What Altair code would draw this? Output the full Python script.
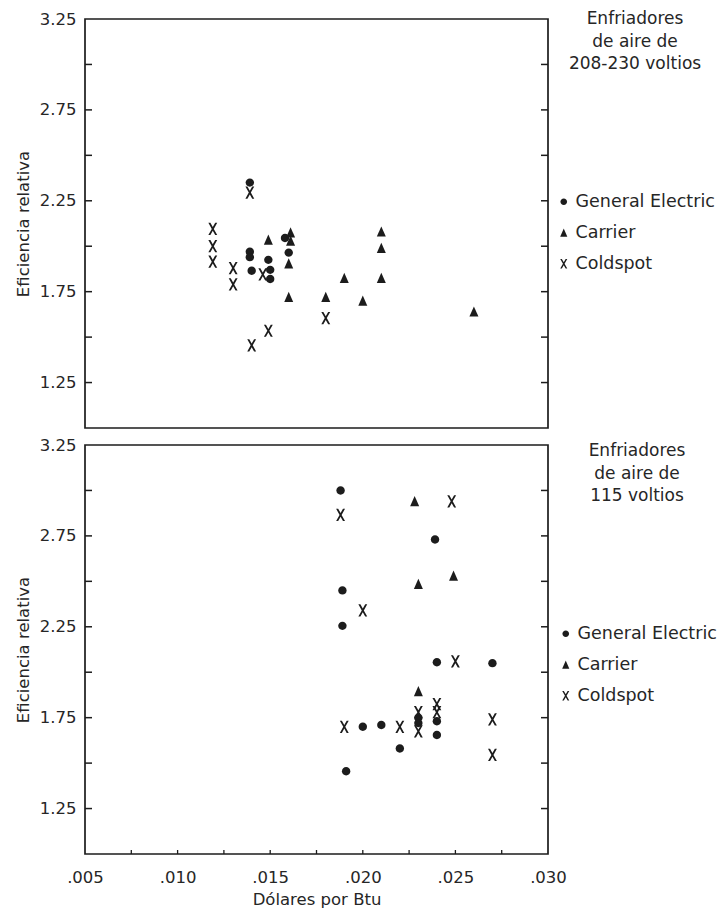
import altair as alt
import pandas as pd

brands = ["General Electric", "Carrier", "Coldspot"]

# Panel 1: 208-230 volt air conditioners
top_ge_x = [0.0139, 0.0139, 0.0139, 0.0140, 0.0149, 0.0150, 0.0150, 0.0158, 0.0160]
top_ge_y = [2.35, 1.97, 1.94, 1.865, 1.925, 1.87, 1.82, 2.045, 1.965]
top_ca_x = [0.0149, 0.0161, 0.0161, 0.0160, 0.0160, 0.0180, 0.0190, 0.0200, 0.0210, 0.0210, 0.0210, 0.0260]
top_ca_y = [2.035, 2.075, 2.03, 1.905, 1.72, 1.72, 1.825, 1.70, 2.08, 1.99, 1.825, 1.64]
top_co_x = [0.0139, 0.0119, 0.0119, 0.0119, 0.0130, 0.0130, 0.0146, 0.0180, 0.0149, 0.0140]
top_co_y = [2.295, 2.095, 2.0, 1.915, 1.88, 1.79, 1.845, 1.605, 1.535, 1.455]

# Panel 2: 115 volt air conditioners
bot_ge_x = [0.0188, 0.0239, 0.0189, 0.0189, 0.0240, 0.0270, 0.0200, 0.0210, 0.0220, 0.0230, 0.0230, 0.0240, 0.0240, 0.0191]
bot_ge_y = [3.00, 2.73, 2.45, 2.255, 2.055, 2.05, 1.70, 1.71, 1.58, 1.75, 1.72, 1.73, 1.655, 1.455]
bot_ca_x = [0.0228, 0.0249, 0.0230, 0.0230]
bot_ca_y = [2.94, 2.53, 2.485, 1.895]
bot_co_x = [0.0188, 0.0248, 0.0200, 0.0250, 0.0190, 0.0220, 0.0230, 0.0230, 0.0240, 0.0240, 0.0270, 0.0270]
bot_co_y = [2.865, 2.94, 2.34, 2.06, 1.70, 1.70, 1.78, 1.675, 1.825, 1.78, 1.74, 1.545]

top_title = ["Enfriadores", "de aire de", "208-230 voltios"]
bot_title = ["Enfriadores", "de aire de", "115 voltios"]

y_label_values = [1.25, 1.75, 2.25, 2.75, 3.25]
y_tick_values = [1.25, 1.5, 1.75, 2.0, 2.25, 2.5, 2.75, 3.0]
x_label_values = [0.005, 0.010, 0.015, 0.020, 0.025, 0.030]
x_tick_values = [0.0075, 0.010, 0.0125, 0.015, 0.0175, 0.020, 0.0225, 0.025, 0.0275]

W, H = 463, 409
INK = "#1c1c1c"
TXT = "#262626"
FONT = "DejaVu Sans"

# filled symbol outlines in the unit box (scaled by the common symbol size)
shape_range = [
    "M0.7,0A0.7,0.7 0 1,1 -0.7,0A0.7,0.7 0 1,1 0.7,0Z",
    "M0,-0.88L0.75,0.82L-0.75,0.82Z",
    "M-0.74,-1.02L-0.4,-1.02L0,-0.31L0.4,-1.02L0.74,-1.02L0.17,0L0.74,1.02L0.4,1.02"
    "L0,0.31L-0.4,1.02L-0.74,1.02L-0.17,0Z",
]


def frame(xs_list, ys_list):
    rows = []
    for b, xs, ys in zip(brands, xs_list, ys_list):
        for xv, yv in zip(xs, ys):
            rows.append({"x": xv, "y": yv, "brand": b})
    return pd.DataFrame(rows)


xscale = alt.Scale(domain=[0.005, 0.030], nice=False, zero=False)
yscale = alt.Scale(domain=[1.0, 3.25], nice=False, zero=False)

yaxis = alt.Axis(values=y_label_values, format=".2f", ticks=False, domain=False, grid=False,
                 labelPadding=9, title="Eficiencia relativa", titlePadding=8,
                 labelFontSize=16.5, titleFontSize=16.5, titleFontWeight="normal",
                 labelColor=TXT, titleColor=TXT, labelFont=FONT, titleFont=FONT)


def xaxis_for(show):
    if not show:
        return None
    return alt.Axis(values=x_label_values, labelExpr="substring(format(datum.value, '.3f'), 1)",
                    ticks=False, domain=False, grid=False, labelPadding=15,
                    title="Dólares por Btu", titlePadding=6, labelFontSize=16.5, titleFontSize=16.5,
                    titleFontWeight="normal", labelColor=TXT, titleColor=TXT,
                    labelFont=FONT, titleFont=FONT, labelFlush=False)


def panel(df, title, show_x, lx, ly):
    xa = xaxis_for(show_x)
    X = lambda f: alt.X(f, scale=xscale, axis=xa)
    Y = lambda f: alt.Y(f, scale=yscale, axis=yaxis)

    pts = alt.Chart(df).mark_point(filled=True, fill=INK, strokeWidth=0, opacity=1,
                                   size=144).encode(
        x=X("x:Q"),
        y=Y("y:Q"),
        shape=alt.Shape("brand:N", scale=alt.Scale(domain=brands, range=shape_range),
                        legend=alt.Legend(title=title, orient="none", legendX=lx, legendY=ly,
                                          padding=0, titleFontSize=17, titleFontWeight="normal",
                                          titleFont=FONT, titleColor=TXT, titleAlign="center",
                                          titleAnchor="middle", titleLineHeight=22.5, titlePadding=120,
                                          labelFontSize=17.5, labelFont=FONT, labelColor=TXT,
                                          labelOffset=3, rowPadding=12, symbolSize=90,
                                          symbolFillColor=INK, symbolStrokeWidth=0,
                                          symbolOpacity=1)),
    )

    ydf = pd.DataFrame({"y": y_tick_values})
    left_ticks = alt.Chart(ydf).mark_rule(color=INK, strokeWidth=1.5).encode(
        y=Y("y:Q"), x=alt.value(0), x2=alt.value(7))
    right_ticks = alt.Chart(ydf).mark_rule(color=INK, strokeWidth=1.5).encode(
        y=Y("y:Q"), x=alt.value(W - 7), x2=alt.value(W))
    layers = [left_ticks, right_ticks, pts]
    if show_x:
        xdf = pd.DataFrame({"x": x_tick_values})
        bottom_ticks = alt.Chart(xdf).mark_rule(color=INK, strokeWidth=1.3).encode(
            x=X("x:Q"), y=alt.value(H - 4), y2=alt.value(H))
        layers.insert(0, bottom_ticks)
    return alt.layer(*layers).properties(width=W, height=H)


top = panel(frame([top_ge_x, top_ca_x, top_co_x], [top_ge_y, top_ca_y, top_co_y]), top_title, False, 470, -8)
bottom = panel(frame([bot_ge_x, bot_ca_x, bot_co_x], [bot_ge_y, bot_ca_y, bot_co_y]), bot_title, True, 472, -2)

chart = alt.vconcat(top, bottom, spacing=7).resolve_scale(
    shape="independent").resolve_legend(shape="independent").properties(
    padding={"left": 14, "top": 10, "right": 2, "bottom": 0}, background="white"
).configure(font=FONT).configure_view(stroke=INK, strokeWidth=1.7)

chart.save("out.html", embed_options={"renderer": "svg", "actions": False})
